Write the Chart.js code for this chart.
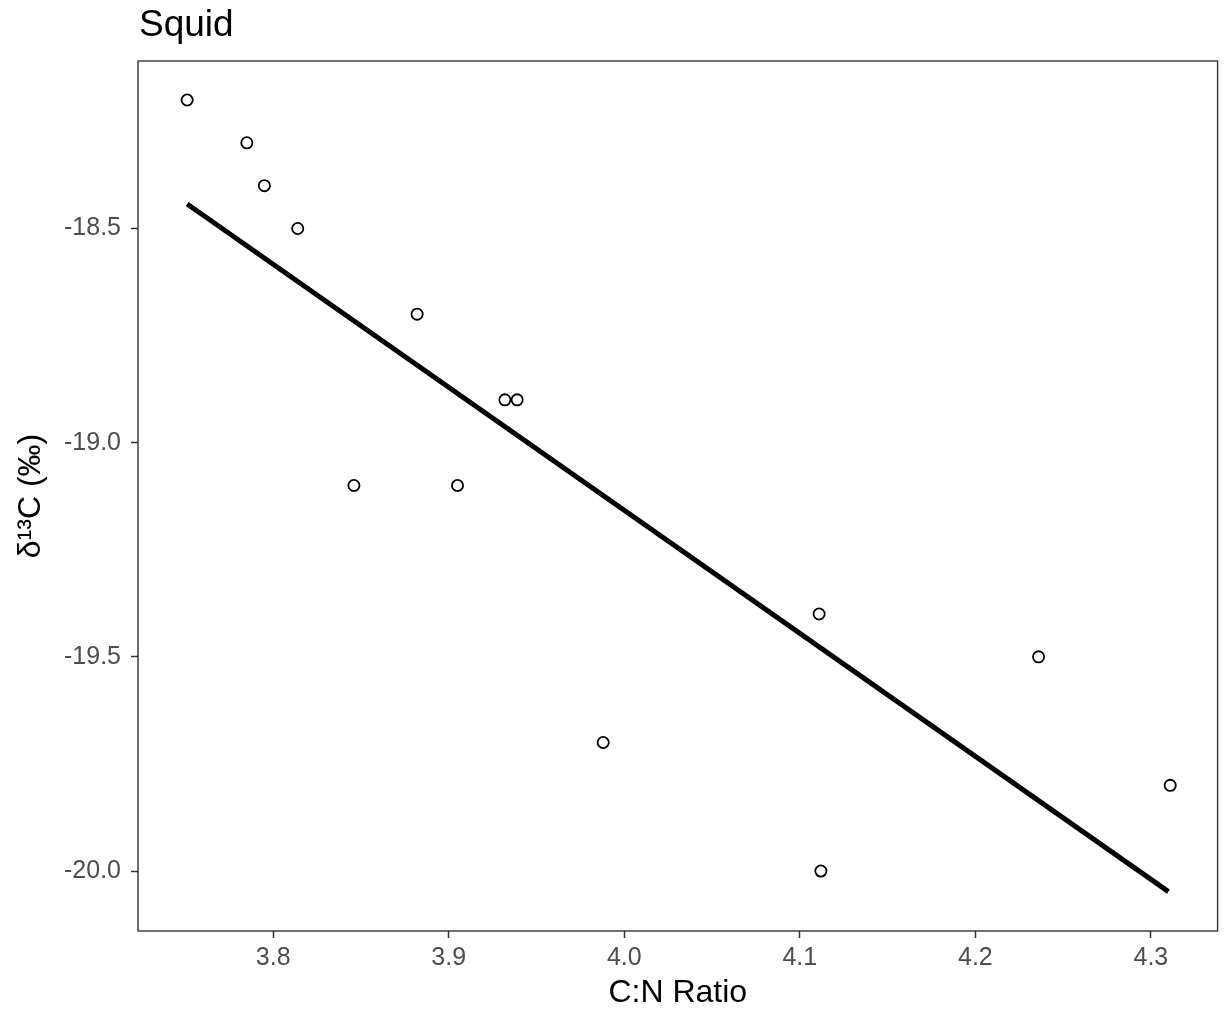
<!DOCTYPE html>
<html>
<head>
<meta charset="utf-8">
<script src="https://cdn.jsdelivr.net/npm/chart.js@4/dist/chart.umd.min.js"></script>
<style>
  html, body { margin: 0; padding: 0; background: #ffffff; }
  #wrap { width: 1225px; height: 1012px; }
</style>
</head>
<body>
<div id="wrap"><canvas id="c" width="1225" height="1012"></canvas></div>
<script>
// ---- data ----
const cnRatio = [3.751, 3.785, 3.795, 3.814, 3.846, 3.882, 3.905, 3.932, 3.939, 3.988, 4.111, 4.112, 4.236, 4.311];
const d13C    = [-18.2, -18.3, -18.4, -18.5, -19.1, -18.7, -19.1, -18.9, -18.9, -19.7, -19.4, -20.0, -19.5, -19.8];
const fitX    = [3.751, 4.310];
const fitY    = [-18.443, -20.048];
const xTicks  = [3.8, 3.9, 4.0, 4.1, 4.2, 4.3];
const yTicks  = [-18.5, -19.0, -19.5, -20.0];
const chartTitle = 'Squid';
const xTitle = 'C:N Ratio';
const yTitle = 'δ¹³C (‰)';

const FONT = "'Liberation Sans', Arial, sans-serif";
const TICK_COL = '#4D4D4D';
const LINE_COL = '#333333';

const points = cnRatio.map((x, i) => ({ x: x, y: d13C[i] }));
const fit = fitX.map((x, i) => ({ x: x, y: fitY[i] }));

const framePlugin = {
  id: 'frame',
  afterDraw(chart) {
    const { ctx, chartArea: a } = chart;
    ctx.save();
    ctx.strokeStyle = LINE_COL;
    ctx.lineWidth = 1.4;
    ctx.strokeRect(a.left, a.top, a.right - a.left, a.bottom - a.top);
    ctx.fillStyle = '#000000';
    ctx.font = '37px ' + FONT;
    ctx.textAlign = 'left';
    ctx.textBaseline = 'alphabetic';
    ctx.fillText(chartTitle, a.left + 1, 36);
    ctx.restore();
  }
};

new Chart(document.getElementById('c'), {
  type: 'scatter',
  data: {
    datasets: [
      {
        type: 'line',
        data: fit,
        borderColor: '#000000',
        borderWidth: 5,
        pointRadius: 0,
        fill: false,
        tension: 0,
        order: 1
      },
      {
        type: 'scatter',
        data: points,
        pointStyle: 'circle',
        pointRadius: 5.6,
        pointBorderWidth: 1.8,
        borderColor: '#000000',
        backgroundColor: 'rgba(255,255,255,0)',
        pointHoverRadius: 5.6,
        order: 2
      }
    ]
  },
  options: {
    responsive: false,
    animation: false,
    devicePixelRatio: 1,
    layout: { padding: { top: 61, right: 3, left: 0, bottom: 0 } },
    plugins: {
      legend: { display: false },
      title: { display: false },
      tooltip: { enabled: false }
    },
    scales: {
      x: {
        type: 'linear',
        min: 3.723,
        max: 4.338,
        afterBuildTicks(s) { s.ticks = xTicks.map(v => ({ value: v })); },
        afterFit(s) { s.height = 81; },
        border: { display: false },
        grid: {
          display: true,
          drawOnChartArea: false,
          drawTicks: true,
          tickLength: 7,
          tickWidth: 1.5,
          color: LINE_COL
        },
        ticks: {
          padding: 5,
          color: TICK_COL,
          font: { family: FONT, size: 25 },
          maxRotation: 0,
          autoSkip: false,
          callback: v => Number(v).toFixed(1)
        },
        title: {
          display: true,
          text: xTitle,
          color: '#000000',
          font: { family: FONT, size: 32 },
          padding: { top: 0, bottom: 0 }
        }
      },
      y: {
        type: 'linear',
        min: -20.14,
        max: -18.109,
        afterBuildTicks(s) { s.ticks = yTicks.map(v => ({ value: v })); },
        afterFit(s) { s.width = 138; },
        border: { display: false },
        grid: {
          display: true,
          drawOnChartArea: false,
          drawTicks: true,
          tickLength: 7,
          tickWidth: 1.5,
          color: LINE_COL
        },
        ticks: {
          padding: 10,
          color: TICK_COL,
          font: { family: FONT, size: 25 },
          autoSkip: false,
          callback: v => Number(v).toFixed(1)
        },
        title: {
          display: true,
          text: yTitle,
          color: '#000000',
          font: { family: FONT, size: 32 },
          padding: { top: 11.5, bottom: 0 }
        }
      }
    }
  },
  plugins: [framePlugin]
});
</script>
</body>
</html>
